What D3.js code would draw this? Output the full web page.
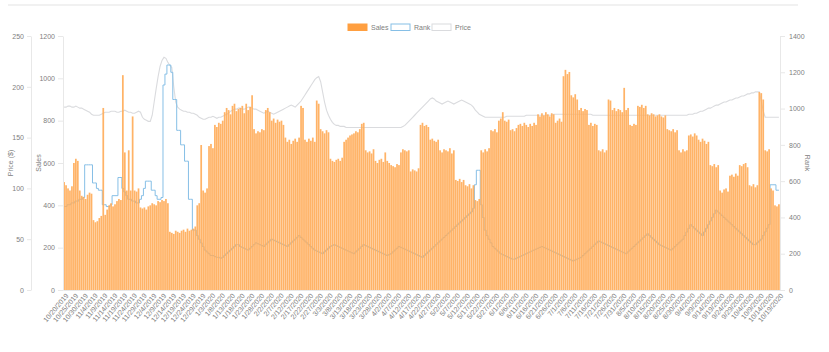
<!DOCTYPE html>
<html>
<head>
<meta charset="utf-8">
<script src="https://cdn.jsdelivr.net/npm/d3@7"></script>
<style>
  body { margin: 0; background: #fff; }
  svg { display: block; font-family: Arial, "Liberation Sans", sans-serif; }
</style>
</head>
<body>
<svg id="chart"></svg>
<script>
(() => {
// daily sales (left inner axis)
let sales = [
  510, 495, 480, 470, 490, 600, 620, 610, 470, 445,
  440, 430, 450, 460, 455, 330, 320, 325, 340, 350,
  860, 355, 380, 400, 410, 395, 405, 420, 430, 425,
  1015, 650, 470, 660, 470, 820, 470, 465, 480, 390,
  385, 390, 380, 395, 400, 410, 405, 400, 420, 415,
  425, 420, 430, 410, 275, 270, 265, 280, 275, 270,
  280, 285, 275, 290, 280, 285, 290, 300, 400, 410,
  685, 470, 460, 480, 680, 690, 670, 780, 770, 790,
  785, 800, 840, 860, 850, 830, 870, 880, 845, 855,
  860, 870, 835, 880, 850, 865, 920, 760, 740, 750,
  745, 760, 755, 850, 860, 840, 800, 810, 790, 805,
  795, 800, 780, 720, 700, 710, 690, 705, 715, 700,
  720, 870, 860, 710, 700, 715, 705, 720, 700, 895,
  880, 760, 750, 740, 755, 745, 620, 610, 605, 615,
  620, 610, 625, 700, 710, 720, 730, 735, 740, 750,
  745, 760, 785, 790, 660, 650, 655, 645, 665, 610,
  600, 615, 620, 605, 650, 610, 600, 590, 585, 580,
  595, 590, 650, 665, 660, 655, 660, 560, 570, 565,
  560, 575, 780, 790, 775, 780, 770, 710, 715, 705,
  700, 710, 660, 650, 665, 660, 655, 670, 645, 660,
  520, 515, 525, 510, 520, 495, 490, 500, 480, 495,
  425, 420, 430, 660, 650, 665, 655, 670, 755, 750,
  760, 745, 800, 810, 840, 800, 795, 805, 755, 760,
  750, 765, 780, 785, 775, 790, 780, 770, 785, 775,
  790, 780, 830, 820, 835, 825, 840, 830, 820, 835,
  830, 790, 800, 810, 795, 1010, 1040, 1020, 1030, 920,
  910, 925, 900, 850, 860, 845, 855, 850, 780, 790,
  775, 785, 780, 660, 655, 665, 650, 660, 900, 895,
  850, 860, 845, 855, 850, 840, 955, 850, 860, 780,
  775, 785, 780, 870, 865, 875, 860, 870, 830, 825,
  835, 830, 820, 825, 830, 820, 815, 825, 760, 755,
  750, 760, 745, 755, 660, 650, 665, 655, 660, 730,
  735, 725, 740, 730, 710, 700, 715, 705, 690, 700,
  590, 585, 595, 580, 590, 470, 460, 475, 480, 465,
  540, 545, 535, 550, 540, 590, 585, 595, 600, 580,
  495, 490, 500, 485, 495, 935, 930, 900, 660, 655,
  665, 480, 470, 400, 395, 405
];

// rank (right axis), stepped line
let rank = [
  460, 460, 470, 470, 480, 480, 490, 490, 500, 500,
  510, 690, 690, 690, 690, 590, 590, 560, 550, 550,
  470, 470, 460, 460, 470, 520, 520, 520, 620, 620,
  560, 540, 520, 500, 500, 490, 490, 480, 480, 500,
  520, 560, 600, 600, 600, 550, 550, 520, 500, 500,
  510, 1130, 1190, 1240, 1240, 1200, 1050, 1050, 880, 880,
  800, 800, 710, 710, 500, 500, 330, 330, 300, 280,
  260, 240, 220, 210, 200, 190, 190, 185, 180, 180,
  175, 180, 190, 200, 210, 220, 230, 240, 250, 250,
  240, 235, 230, 225, 220, 230, 240, 250, 260, 255,
  250, 245, 240, 250, 260, 270, 280, 275, 270, 265,
  260, 255, 250, 245, 240, 250, 260, 270, 280, 290,
  300, 290, 280, 270, 260, 250, 240, 230, 220, 215,
  210, 205, 200, 210, 220, 230, 240, 245, 250, 245,
  240, 235, 230, 225, 220, 215, 210, 205, 200, 210,
  220, 230, 240, 250, 245, 240, 235, 230, 225, 220,
  215, 210, 205, 200, 195, 190, 195, 200, 210, 220,
  230, 240, 235, 230, 225, 220, 215, 210, 205, 200,
  195, 190, 185, 180, 190, 200, 210, 220, 230, 240,
  250, 260, 270, 280, 290, 300, 310, 320, 330, 340,
  350, 360, 370, 380, 390, 400, 410, 420, 430, 450,
  580, 660, 660, 470, 400, 330, 300, 280, 260, 240,
  230, 220, 210, 200, 195, 190, 185, 180, 175, 170,
  170, 175, 180, 185, 190, 195, 200, 205, 210, 215,
  220, 225, 230, 235, 240, 235, 230, 225, 220, 215,
  210, 205, 200, 195, 190, 185, 180, 175, 170, 165,
  160, 165, 170, 175, 180, 190, 200, 210, 220, 230,
  240, 250, 260, 270, 265, 260, 255, 250, 245, 240,
  235, 230, 225, 220, 215, 210, 205, 200, 210, 220,
  230, 240, 250, 260, 270, 280, 290, 300, 310, 300,
  290, 280, 270, 260, 250, 245, 240, 235, 230, 225,
  220, 230, 240, 250, 260, 270, 280, 300, 320, 340,
  360, 350, 340, 330, 320, 310, 300, 320, 340, 360,
  380, 400, 420, 440, 430, 420, 410, 400, 390, 380,
  370, 360, 350, 340, 330, 320, 310, 300, 290, 280,
  270, 260, 250, 250, 260, 270, 280, 300, 320, 340,
  360, 580, 580, 580, 550, 550
];

// price in $ (left outer axis)
let price = [
  180, 180, 181, 181, 180, 180, 181, 180, 179, 179,
  178, 177, 176, 175, 173, 172, 172, 172, 172, 173,
  174, 175, 175, 175, 176, 176, 176, 175, 175, 176,
  176, 177, 176, 175, 175, 174, 174, 175, 176, 175,
  170, 168, 167, 166, 166, 172, 185, 198, 210, 220,
  226, 229, 228, 224, 221, 219, 200, 185, 180, 178,
  177, 176, 176, 175, 175, 174, 174, 173, 172, 170,
  169, 168, 168, 169, 170, 170, 171, 170, 169, 170,
  170, 171, 172, 173, 174, 176, 177, 178, 178, 179,
  179, 178, 178, 179, 180, 180, 179, 178, 178, 177,
  176, 175, 174, 175, 176, 175, 174, 173, 174, 175,
  176, 177, 178, 179, 180, 181, 182, 181, 180, 182,
  184, 186, 189, 192, 195, 198, 201, 204, 207, 209,
  210, 205, 195, 185, 177, 172, 168, 165, 163, 162,
  162, 161, 161, 161, 160, 160, 160, 160, 160, 160,
  160, 160, 160, 160, 160, 160, 160, 160, 160, 160,
  160, 160, 160, 160, 160, 160, 160, 160, 160, 160,
  160, 160, 160, 161, 162, 164, 166, 168, 170, 172,
  174, 176, 178, 180, 182, 184, 186, 188, 189, 188,
  186, 185, 184, 183, 184, 185, 186, 185, 184, 183,
  184, 185, 186, 187, 186, 185, 184, 183, 182, 180,
  177, 175, 173, 172, 171, 170, 170, 170, 170, 170,
  170, 170, 170, 170, 170, 170, 171, 171, 171, 171,
  171, 171, 171, 171, 171, 171, 172, 172, 172, 172,
  172, 172, 172, 172, 172, 172, 172, 172, 172, 172,
  173, 173, 173, 173, 173, 173, 173, 173, 173, 173,
  173, 173, 173, 173, 173, 173, 173, 173, 173, 173,
  172, 172, 172, 172, 172, 172, 172, 172, 172, 172,
  172, 172, 172, 172, 172, 172, 172, 172, 172, 172,
  172, 172, 172, 172, 172, 172, 172, 172, 172, 172,
  172, 172, 172, 172, 172, 172, 172, 172, 172, 172,
  172, 172, 172, 172, 172, 172, 172, 172, 172, 173,
  173, 173, 174, 174, 175, 176, 176, 177, 178, 179,
  179, 180, 181, 182, 182, 183, 184, 185, 185, 186,
  187, 187, 188, 189, 189, 190, 191, 191, 192, 193,
  193, 194, 194, 195, 195, 195, 186, 176, 170, 170,
  170, 170, 170, 170, 170, 170
];

let priceTicks = [0, 50, 100, 150, 200, 250];
let salesTicks = [0, 200, 400, 600, 800, 1000, 1200];
let rankTicks = [0, 200, 400, 600, 800, 1000, 1200, 1400];
let legendItems = ['Sales', 'Rank', 'Price'];

// one category per day
let fmt = d3.timeFormat('%-m/%-d/%Y');
let days = d3.timeDay.range(new Date(2019, 9, 20), new Date(2019, 9, 20 + sales.length)).map(fmt);

let svgWidth = 829,
    svgHeight = 352,
    plotLeft = 63,
    plotRight = 780,
    plotTop = 36,
    plotBottom = 290,
    priceAxisX = 31,
    fontSize = 7,
    textColor = '#808080',
    lineColor = '#e8e8e8',
    rankColor = '#86bfe6',
    priceColor = '#dadbde';

let svg = d3.select('#chart')
    .attr('width', svgWidth)
    .attr('height', svgHeight);

// faint card edge at the top
svg.append('line')
    .attr('x1', 8).attr('x2', 798)
    .attr('y1', 5).attr('y2', 5)
    .attr('stroke', '#f1f1f1')
    .attr('stroke-width', 2);

let xScale = d3.scaleBand()
    .domain(days)
    .range([plotLeft, plotRight])
    .padding(0.12);

let salesScale = d3.scaleLinear().domain([0, 1200]).range([plotBottom, plotTop]);
let priceScale = d3.scaleLinear().domain([0, 250]).range([plotBottom, plotTop]);
let rankScale = d3.scaleLinear().domain([0, 1400]).range([plotBottom, plotTop]);

let cx = d => xScale(d) + xScale.bandwidth() / 2;

// lines sit behind the bars
let priceLine = d3.line()
    .x((d, i) => cx(days[i]))
    .y(d => priceScale(d));

let rankLine = d3.line()
    .x((d, i) => cx(days[i]))
    .y(d => rankScale(d))
    .curve(d3.curveStep);

svg.append('path')
    .datum(price)
    .attr('d', priceLine)
    .attr('fill', 'none')
    .attr('stroke', priceColor)
    .attr('stroke-width', 1.1);

svg.append('path')
    .datum(rank)
    .attr('d', rankLine)
    .attr('fill', 'none')
    .attr('stroke', rankColor)
    .attr('stroke-width', 1);

svg.append('g')
    .selectAll('rect')
    .data(sales)
    .enter()
    .append('rect')
    .attr('x', (d, i) => xScale(days[i]))
    .attr('y', d => salesScale(d))
    .attr('width', xScale.bandwidth())
    .attr('height', d => plotBottom - salesScale(d))
    .attr('fill', 'rgb(255,172,90)')
    .attr('fill-opacity', 0.92);

// axes
let styleAxis = g => {
  g.selectAll('.domain').attr('stroke', lineColor);
  g.selectAll('.tick line').attr('stroke', lineColor);
  g.selectAll('text')
      .attr('fill', textColor)
      .attr('font-size', fontSize)
      .attr('font-family', 'Arial, "Liberation Sans", sans-serif');
};

let intFmt = d3.format('d');

svg.append('g')
    .attr('transform', `translate(${priceAxisX},0)`)
    .call(d3.axisLeft(priceScale).tickValues(priceTicks).tickFormat(intFmt).tickSize(4).tickPadding(3).tickSizeOuter(0))
    .call(styleAxis);

svg.append('g')
    .attr('transform', `translate(${plotLeft},0)`)
    .call(d3.axisLeft(salesScale).tickValues(salesTicks).tickFormat(intFmt).tickSize(5).tickPadding(3).tickSizeOuter(0))
    .call(styleAxis);

svg.append('g')
    .attr('transform', `translate(${plotRight},0)`)
    .call(d3.axisRight(rankScale).tickValues(rankTicks).tickFormat(intFmt).tickSize(5).tickPadding(4).tickSizeOuter(0))
    .call(styleAxis);

let xAxis = svg.append('g')
    .attr('transform', `translate(0,${plotBottom})`)
    .call(d3.axisBottom(xScale)
        .tickValues(days.filter((d, i) => i % 5 === 0))
        .tickSize(0)
        .tickPadding(4)
        .tickSizeOuter(0))
    .call(styleAxis);

xAxis.selectAll('text')
    .attr('text-anchor', 'end')
    .attr('dx', '-0.2em')
    .attr('dy', '0.5em')
    .attr('transform', 'rotate(-50)');

// axis titles
let titles = [
  { text: 'Price ($)', x: 11, y: (plotTop + plotBottom) / 2, rot: -90 },
  { text: 'Sales', x: 39, y: (plotTop + plotBottom) / 2, rot: -90 },
  { text: 'Rank', x: 807, y: (plotTop + plotBottom) / 2, rot: 90 }
];

svg.selectAll('.title')
    .data(titles)
    .enter()
    .append('text')
    .attr('class', 'title')
    .attr('transform', d => `translate(${d.x},${d.y}) rotate(${d.rot})`)
    .attr('text-anchor', 'middle')
    .attr('dy', '0.35em')
    .attr('fill', textColor)
    .attr('font-size', fontSize)
    .text(d => d.text);

// legend
let legendStyles = [
  { fill: 'rgb(255,159,64)', stroke: 'rgb(255,159,64)' },
  { fill: '#fff', stroke: rankColor },
  { fill: '#fff', stroke: priceColor }
];
let legendX = [348, 391, 432];

let legend = svg.append('g')
    .selectAll('g')
    .data(legendItems)
    .enter()
    .append('g')
    .attr('transform', (d, i) => `translate(${legendX[i]},24)`);

legend.append('rect')
    .attr('width', 19)
    .attr('height', 6.5)
    .attr('fill', (d, i) => legendStyles[i].fill)
    .attr('stroke', (d, i) => legendStyles[i].stroke)
    .attr('stroke-width', 1);

legend.append('text')
    .attr('x', 23)
    .attr('y', 3.5)
    .attr('dy', '0.35em')
    .attr('fill', textColor)
    .attr('font-size', fontSize)
    .text(d => d);
})();
</script>
</body>
</html>
